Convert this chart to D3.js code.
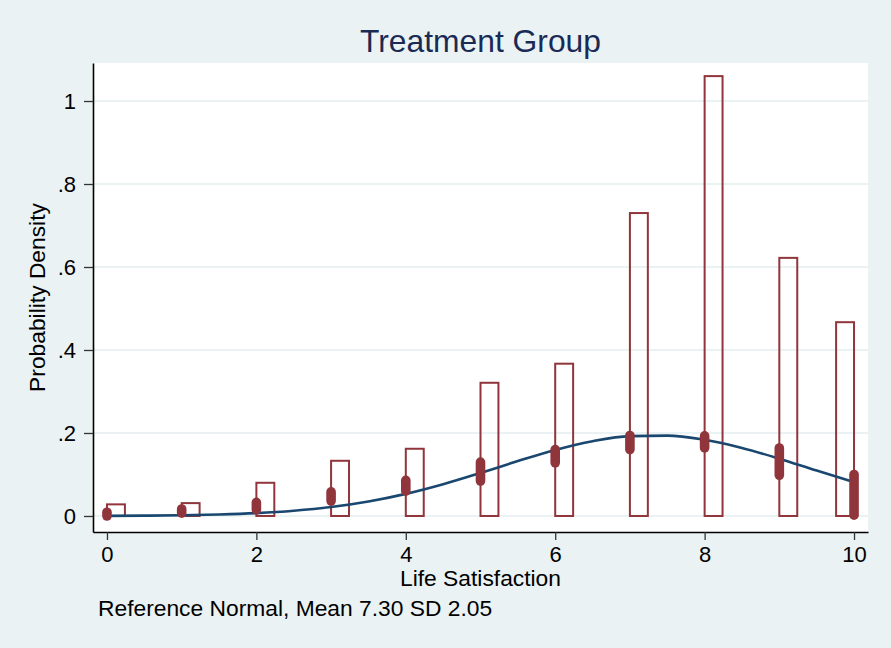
<!DOCTYPE html>
<html>
<head>
<meta charset="utf-8">
<script src="https://cdn.jsdelivr.net/npm/d3@7"></script>
<style>
  body { margin: 0; background: #eaf2f3; }
  svg { display: block; font-family: "Liberation Sans", Arial, sans-serif; }
</style>
</head>
<body>
<div id="svg-container"></div>
<script>
// histogram bins (start, end) and density
const binStart = [0, 1, 2, 3, 4, 5, 6, 7, 8, 9, 9.76]
const binEnd = [0.24, 1.24, 2.24, 3.24, 4.24, 5.24, 6.24, 7.24, 8.24, 9.24, 10]
const density = [0.028, 0.031, 0.080, 0.133, 0.162, 0.321, 0.367, 0.730, 1.060, 0.622, 0.467]

// marker ranges at each score
const markerX = [0, 1, 2, 3, 4, 5, 6, 7, 8, 9, 10]
const markerLow = [0.000, 0.007, 0.015, 0.036, 0.060, 0.084, 0.128, 0.160, 0.164, 0.098, 0.002]
const markerHigh = [0.009, 0.017, 0.033, 0.058, 0.086, 0.130, 0.160, 0.194, 0.193, 0.164, 0.100]

// reference normal curve
const curveX = [0, 0.5, 1, 1.5, 2, 2.5, 3, 3.5, 4, 4.5, 5, 5.5, 6, 6.5, 7, 7.5, 8, 8.5, 9, 9.5, 10]
const curveY = [0.0003, 0.0008, 0.0017, 0.0036, 0.0069, 0.0126, 0.0216, 0.0349, 0.0533, 0.0766, 0.1037,
  0.1323, 0.1592, 0.1803, 0.1925, 0.1937, 0.1836, 0.1640, 0.1380, 0.1094, 0.0818]

const xTicks = [0, 2, 4, 6, 8, 10]
const yTicks = [0, 0.2, 0.4, 0.6, 0.8, 1]
const yTickLabels = ['0', '.2', '.4', '.6', '.8', '1']

const width = 891
const height = 648
const margin = { top: 63, right: 23, bottom: 116, left: 93 }
const innerWidth = width - margin.left - margin.right
const innerHeight = height - margin.top - margin.bottom

const maroon = 'rgb(144,53,59)'
const navy = 'rgb(26,71,111)'

const svg = d3.select('#svg-container').append('svg')
  .attr('width', width).attr('height', height)

svg.append('rect').attr('width', width).attr('height', height).attr('fill', '#eaf2f3')

const xScale = d3.scaleLinear().domain([-0.187, 10.187]).range([0, innerWidth])
const yScale = d3.scaleLinear().domain([-0.0386, 1.0916]).range([innerHeight, 0])

const g = svg.append('g').attr('transform', `translate(${margin.left}, ${margin.top})`)

g.append('rect').attr('width', innerWidth).attr('height', innerHeight).attr('fill', '#fff')

// gridlines
g.selectAll('.grid').data(yTicks).enter().append('line')
  .attr('x1', 0).attr('x2', innerWidth)
  .attr('y1', d => yScale(d)).attr('y2', d => yScale(d))
  .attr('stroke', '#eaf2f3').attr('stroke-width', 2)

// bars
g.selectAll('.bar').data(density).enter().append('rect')
  .attr('x', (d, i) => xScale(binStart[i]))
  .attr('width', (d, i) => xScale(binEnd[i]) - xScale(binStart[i]))
  .attr('y', d => yScale(d))
  .attr('height', d => yScale(0) - yScale(d))
  .attr('fill', 'none').attr('stroke', maroon).attr('stroke-width', 2)

// normal curve
const line = d3.line().x(d => xScale(d[0])).y(d => yScale(d[1])).curve(d3.curveMonotoneX)
g.append('path').datum(curveX.map((x, i) => [x, curveY[i]]))
  .attr('d', line).attr('fill', 'none').attr('stroke', navy).attr('stroke-width', 2.6)

// markers
const r = 4.8
g.selectAll('.marker').data(markerX).enter().append('rect')
  .attr('x', d => xScale(d) - r)
  .attr('width', 2 * r)
  .attr('y', (d, i) => yScale(markerHigh[i]) - r)
  .attr('height', (d, i) => yScale(markerLow[i]) - yScale(markerHigh[i]) + 2 * r)
  .attr('rx', r).attr('ry', r)
  .attr('fill', maroon)

// y axis
const yAxis = g.append('g').call(d3.axisLeft(yScale).tickValues(yTicks)
  .tickFormat((d, i) => yTickLabels[i]).tickSize(9).tickPadding(8).tickSizeOuter(0))
yAxis.select('.domain').attr('stroke', '#000').attr('stroke-width', 1.6)
yAxis.selectAll('.tick line').attr('stroke', '#333').attr('stroke-width', 1.3)
yAxis.selectAll('.tick text').attr('font-size', 22).attr('fill', '#000')
  .attr('font-family', '"Liberation Sans", Arial, sans-serif')

// x axis
const xAxis = g.append('g').attr('transform', `translate(0, ${innerHeight})`)
  .call(d3.axisBottom(xScale).tickValues(xTicks).tickSize(8).tickPadding(6).tickSizeOuter(0))
xAxis.select('.domain').attr('stroke', '#000').attr('stroke-width', 1.6)
xAxis.selectAll('.tick line').attr('stroke', '#333').attr('stroke-width', 1.3)
xAxis.selectAll('.tick text').attr('font-size', 22).attr('fill', '#000')
  .attr('font-family', '"Liberation Sans", Arial, sans-serif')

// title and labels
svg.append('text').attr('x', margin.left + innerWidth / 2).attr('y', 52)
  .attr('text-anchor', 'middle').attr('font-size', 31.8).attr('fill', '#1a2a55')
  .text('Treatment Group')

svg.append('text').attr('x', margin.left + innerWidth / 2).attr('y', 586)
  .attr('text-anchor', 'middle').attr('font-size', 22.8).attr('fill', '#000')
  .text('Life Satisfaction')

svg.append('text')
  .attr('transform', `translate(45, ${margin.top + innerHeight / 2}) rotate(-90)`)
  .attr('text-anchor', 'middle').attr('font-size', 22.8).attr('fill', '#000')
  .text('Probability Density')

svg.append('text').attr('x', 98).attr('y', 616)
  .attr('font-size', 22.8).attr('fill', '#000')
  .text('Reference Normal, Mean 7.30 SD 2.05')
</script>
</body>
</html>
